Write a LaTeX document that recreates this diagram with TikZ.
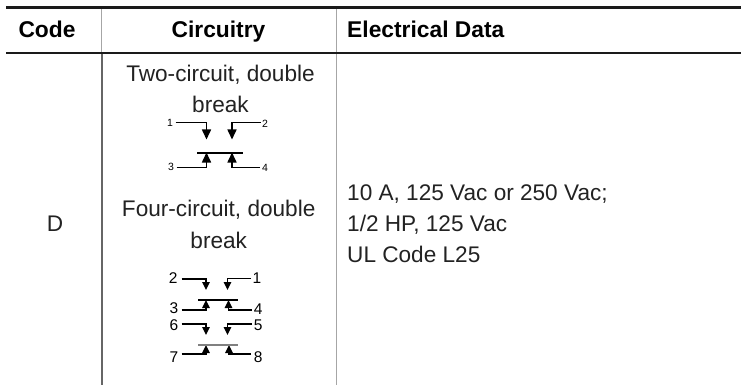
\documentclass[tikz,border=0pt]{standalone}
\usepackage{fontspec}
\setmainfont{Liberation Sans}
\usetikzlibrary{arrows.meta}
\definecolor{txt}{HTML}{222222}
\definecolor{rulec}{HTML}{1A1A1A}
\tikzset{
  hdr/.style={inner sep=0pt, text=black, font=\fontsize{22.8}{26}\selectfont\bfseries},
  body/.style={inner sep=0pt, text=txt, font=\fontsize{22.6}{26}\selectfont},
  smalllab/.style={inner sep=0pt, text=black, font=\fontsize{10.5}{11}\selectfont},
  midlab/.style={inner sep=0pt, text=black, font=\fontsize{15.5}{16}\selectfont},
  hrule/.style={draw=rulec, line width=2.6pt},
  wireA/.style={draw=black, line width=1.6pt, -{Triangle[length=10pt,width=9pt]}},
  wireB/.style={draw=black, line width=1.3pt, -{Triangle[length=8pt,width=7.5pt]}},
}
\begin{document}
\begin{tikzpicture}[x=1pt,y=-1pt]
\useasboundingbox[fill=white] (0,0) rectangle (741,385);
% vertical separators
\draw[draw=black!35, line width=1.2pt] (101.6,7) -- (101.6,53);
\draw[draw=black!60, line width=2pt] (101.6,53) -- (101.6,385);
\draw[draw=black!35, line width=1.1pt] (336.2,7) -- (336.2,385);
% horizontal rules
\coordinate (r1a) at (6,7.3); \coordinate (r1b) at (741,7.3);
\coordinate (r2a) at (6,53); \coordinate (r2b) at (741,53);
\draw[hrule] (r1a) -- (r1b);
\draw[hrule] (r2a) -- (r2b);
% header
\node[hdr, anchor=base west] (hcode) at (18.3,37.7) {Code};
\node[hdr, anchor=base] (hcirc) at (218.5,37.7) {Circuitry};
\node[hdr, anchor=base west] (helec) at (347,37.7) {Electrical Data};
% body text
\node[body, anchor=base] (code) at (55,231.5) {D};
\node[body, anchor=base] (t1a) at (220.5,81.7) {Two-circuit, double};
\node[body, anchor=base] (t1b) at (220.5,113) {break};
\node[body, anchor=base] (t2a) at (218.7,216.7) {Four-circuit, double};
\node[body, anchor=base] (t2b) at (218.7,248) {break};
\node[body, anchor=base west] (e1) at (347,200) {10 A, 125 Vac or 250 Vac;};
\node[body, anchor=base west] (e2) at (347,231) {1/2 HP, 125 Vac};
\node[body, anchor=base west] (e3) at (347,262) {UL Code L25};
% ---- diagram 1 (two-circuit)
\node[smalllab] (d1n1) at (170,122.5) {1};
\node[smalllab] (d1n2) at (265,123.5) {2};
\node[smalllab] (d1n3) at (171,167.3) {3};
\node[smalllab] (d1n4) at (265,168) {4};
\coordinate (a1) at (175.5,122.5); \coordinate (a1c) at (206.5,122.5); \coordinate (a1t) at (206.5,139.5);
\coordinate (a2) at (260.5,122.5); \coordinate (a2c) at (232,122.5); \coordinate (a2t) at (232,139.5);
\coordinate (a3) at (176.5,167.3); \coordinate (a3c) at (206.5,167.3); \coordinate (a3t) at (206.5,152.5);
\coordinate (a4) at (260,167.3); \coordinate (a4c) at (232,167.3); \coordinate (a4t) at (232,152.5);
\coordinate (b1l) at (197,153); \coordinate (b1r) at (242.5,153);
\draw[wireA] (a1) -- (a1c) -- (a1t);
\draw[wireA] (a2) -- (a2c) -- (a2t);
\draw[wireA] (a3) -- (a3c) -- (a3t);
\draw[wireA] (a4) -- (a4c) -- (a4t);
\draw[black, line width=2pt] (b1l) -- (b1r);
% ---- diagram 2 (four-circuit)
\node[midlab] (d2n2) at (173.3,278.5) {2};
\node[midlab] (d2n1) at (257,278) {1};
\node[midlab] (d2n3) at (174,308.5) {3};
\node[midlab] (d2n4) at (258.3,309) {4};
\node[midlab] (d2n6) at (174,325) {6};
\node[midlab] (d2n5) at (258.3,325) {5};
\node[midlab] (d2n7) at (174,357) {7};
\node[midlab] (d2n8) at (258.3,357) {8};
\coordinate (p2) at (181.5,279); \coordinate (p2c) at (206,279); \coordinate (p2t) at (206,290);
\coordinate (p1) at (250.5,278.5); \coordinate (p1c) at (227.5,278.5); \coordinate (p1t) at (227.5,290);
\coordinate (p3) at (181.5,310); \coordinate (p3c) at (206,310); \coordinate (p3t) at (206,300);
\coordinate (p4) at (252,310); \coordinate (p4c) at (228.5,310); \coordinate (p4t) at (228.5,300);
\coordinate (p6) at (181.5,324); \coordinate (p6c) at (206,324); \coordinate (p6t) at (206,335);
\coordinate (p5) at (252,324); \coordinate (p5c) at (227.5,324); \coordinate (p5t) at (227.5,335);
\coordinate (p7) at (181.5,354); \coordinate (p7c) at (206,354); \coordinate (p7t) at (206,345);
\coordinate (p8) at (251,354); \coordinate (p8c) at (229,354); \coordinate (p8t) at (229,345);
\coordinate (q1l) at (198,300); \coordinate (q1r) at (237.5,300);
\coordinate (q2l) at (198,345); \coordinate (q2r) at (237.5,345);
\draw[wireB] (p2) -- (p2c) -- (p2t);
\draw[wireB] (p1) -- (p1c) -- (p1t);
\draw[wireB] (p3) -- (p3c) -- (p3t);
\draw[wireB] (p4) -- (p4c) -- (p4t);
\draw[wireB] (p6) -- (p6c) -- (p6t);
\draw[wireB] (p5) -- (p5c) -- (p5t);
\draw[wireB] (p7) -- (p7c) -- (p7t);
\draw[wireB] (p8) -- (p8c) -- (p8t);
\draw[black, line width=1.2pt] (q1l) -- (q1r);
\draw[black!50, line width=1.2pt] (q2l) -- (q2r);
\end{tikzpicture}
\end{document}
